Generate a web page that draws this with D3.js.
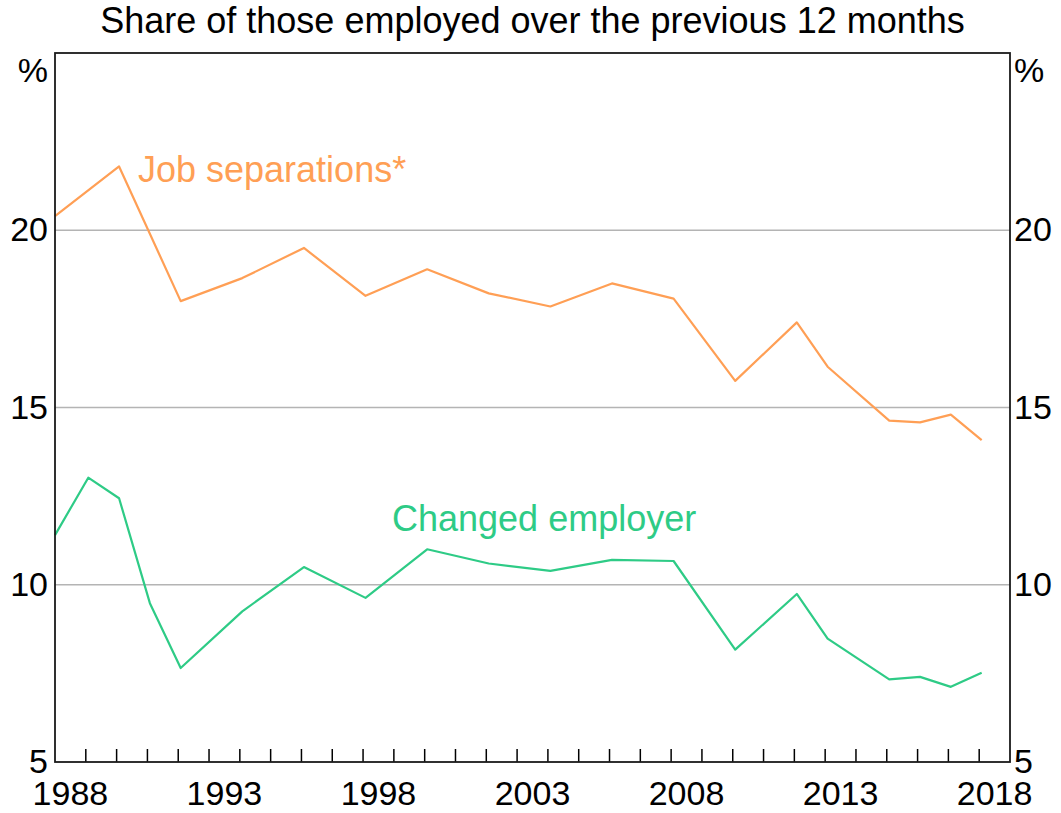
<!DOCTYPE html>
<html>
<head>
<meta charset="utf-8">
<script src="https://cdn.jsdelivr.net/npm/d3@7"></script>
<style>
  body { margin: 0; background: #fff; }
  svg text { font-family: Arial, "Liberation Sans", sans-serif; fill: #000; }
</style>
</head>
<body>
<svg id="chart" width="1061" height="813"></svg>
<script>
// data (survey dates, about February of each year)
var sepDates = [1988.0, 1990.08, 1992.08, 1994.08, 1996.08, 1998.08, 2000.08, 2002.08, 2004.08,
                2006.08, 2008.08, 2010.08, 2012.08, 2013.08, 2015.08, 2016.08, 2017.08, 2018.08];
var sepValues = [20.4, 21.8, 18.0, 18.65, 19.5, 18.15, 18.9, 18.22, 17.85,
                 18.5, 18.07, 15.75, 17.4, 16.15, 14.63, 14.58, 14.8, 14.08];

var chgDates = [1988.0, 1989.08, 1990.08, 1991.08, 1992.08, 1994.08, 1996.08, 1998.08, 2000.08, 2002.08,
                2004.08, 2006.08, 2008.08, 2010.08, 2012.08, 2013.08, 2015.08, 2016.08, 2017.08, 2018.08];
var chgValues = [11.4, 13.02, 12.44, 9.48, 7.65, 9.25, 10.5, 9.63, 11.0, 10.6,
                 10.39, 10.7, 10.67, 8.17, 9.74, 8.48, 7.33, 7.4, 7.12, 7.52];

var yTicks = [5, 10, 15, 20];
var xLabels = [1988, 1993, 1998, 2003, 2008, 2013, 2018];
var title = "Share of those employed over the previous 12 months";

function draw() {
    var svg = d3.select("#chart");
    var left = 55, right = 1010, plotTop = 53, plotBottom = 762;

    var x = d3.scaleLinear().domain([1988, 2019]).range([left, right]);
    var y = d3.scaleLinear().domain([5, 25]).range([plotBottom, plotTop]);

    var orange = "#ff9f55", green = "#2ecb86";

    // title
    svg.append("text")
        .attr("x", (left + right) / 2)
        .attr("y", 33)
        .attr("text-anchor", "middle")
        .style("font-size", "36px")
        .text(title);

    // gridlines
    svg.append("g").selectAll("line")
        .data(yTicks.filter(function(d) { return d > 5; }))
        .enter().append("line")
        .attr("x1", left).attr("x2", right)
        .attr("y1", function(d) { return y(d); })
        .attr("y2", function(d) { return y(d); })
        .attr("stroke", "#b4b4b4")
        .attr("stroke-width", 1.6);

    // year ticks along the bottom, pointing up
    svg.append("g").selectAll("line")
        .data(d3.range(1989, 2019))
        .enter().append("line")
        .attr("x1", function(d) { return x(d); })
        .attr("x2", function(d) { return x(d); })
        .attr("y1", plotBottom).attr("y2", plotBottom - 13)
        .attr("stroke", "#000")
        .attr("stroke-width", 1.5);

    var line = d3.line()
        .x(function(d) { return x(d[0]); })
        .y(function(d) { return y(d[1]); });

    svg.append("path")
        .datum(d3.zip(sepDates, sepValues))
        .attr("d", line)
        .attr("fill", "none")
        .attr("stroke", orange)
        .attr("stroke-width", 2.2)
        .attr("stroke-linejoin", "round");

    svg.append("path")
        .datum(d3.zip(chgDates, chgValues))
        .attr("d", line)
        .attr("fill", "none")
        .attr("stroke", green)
        .attr("stroke-width", 2.2)
        .attr("stroke-linejoin", "round");

    // frame
    svg.append("rect")
        .attr("x", left).attr("y", plotTop)
        .attr("width", right - left).attr("height", plotBottom - plotTop)
        .attr("fill", "none")
        .attr("stroke", "#1a1a1a")
        .attr("stroke-width", 1.8);

    // y labels on both sides
    var yl = svg.append("g").style("font-size", "34px");
    yTicks.forEach(function(d) {
        yl.append("text").attr("x", left - 7).attr("y", y(d)).attr("dy", "0.33em")
            .attr("text-anchor", "end").text(d);
        yl.append("text").attr("x", right + 4).attr("y", y(d)).attr("dy", "0.33em")
            .attr("text-anchor", "start").text(d);
    });
    yl.append("text").attr("x", left - 7).attr("y", 70).attr("dy", "0.35em")
        .attr("text-anchor", "end").text("%");
    yl.append("text").attr("x", right + 4).attr("y", 70).attr("dy", "0.35em")
        .attr("text-anchor", "start").text("%");

    // x labels, centred in the year
    svg.append("g").selectAll("text")
        .data(xLabels)
        .enter().append("text")
        .attr("x", function(d) { return x(d + 0.5); })
        .attr("y", 805)
        .attr("text-anchor", "middle")
        .style("font-size", "34px")
        .text(function(d) { return d; });

    // series labels
    svg.append("text").attr("x", 138).attr("y", 182)
        .style("font-size", "36px").style("fill", orange)
        .text("Job separations*");
    svg.append("text").attr("x", 392).attr("y", 531)
        .style("font-size", "36px").style("fill", green)
        .text("Changed employer");
}

draw();
</script>
</body>
</html>
